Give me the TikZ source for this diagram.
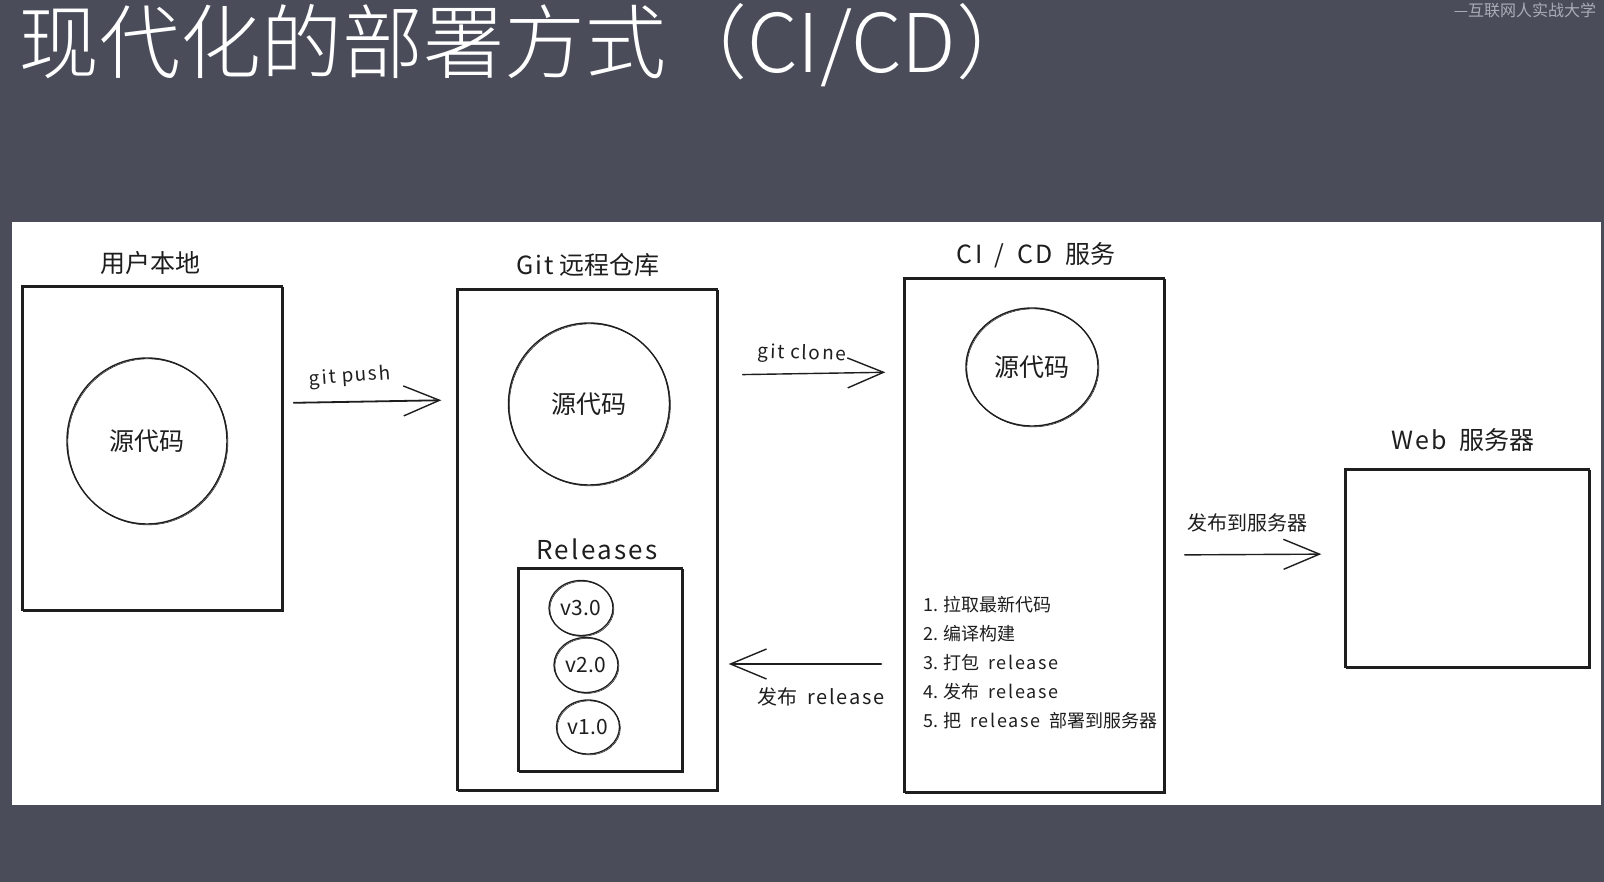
\documentclass[tikz,border=0pt]{standalone}
\usepackage{fontspec}
\setmainfont{Noto Sans CJK SC}
\IfFontExistsTF{Noto Sans CJK SC Light}
  {\newfontfamily\headfont{Noto Sans CJK SC Light}}
  {\newfontfamily\headfont{Noto Sans CJK SC}}
\usetikzlibrary{arrows.meta,shapes.geometric}
\definecolor{slate}{RGB}{74,77,89}
\definecolor{ink}{RGB}{30,30,30}
\definecolor{brandgrey}{RGB}{170,173,182}
\newcommand{\setfs}[1]{\fontsize{#1}{#1}\selectfont}
% loosely spaced latin words
\newcommand{\hand}[1]{{\addfontfeature{LetterSpace=9}#1}}

\begin{document}
\begin{tikzpicture}[x=1pt,y=-1pt,
  sketch/.style={draw=ink, line width=1.4pt,
    postaction={draw=ink, line width=0.5pt, transform canvas={xshift=0.9pt,yshift=-0.9pt}}},
  frame/.style={sketch, inner sep=0pt},
  bubble/.style={ellipse, sketch, inner sep=0pt, text=ink, font=\setfs{25}},
  tag/.style={ellipse, sketch, line width=1.3pt, inner sep=0pt, text=ink, font=\setfs{21}},
  lbl/.style={text=ink, inner sep=0pt},
  steptext/.style={text=ink, inner sep=0pt, anchor=west, font=\setfs{18}},
  flow/.style={draw=ink, line width=1.4pt, line cap=round,
    -{Straight Barb[length=36pt,width=30pt,line width=1.4pt]}}
]
% page and canvas
\useasboundingbox (0,0) rectangle (1604,882);
\fill[slate] (0,0) rectangle (1604,882);
\fill[white] (12,222) rectangle (1601,805);

% heading
\node[anchor=base west, inner sep=0pt, text=white, font={\headfont\setfs{81}}] (title) at (18,73) {现代化的部署方式（CI/CD）};
\node[inner sep=0pt, text=brandgrey, font=\setfs{16}] (brand) at (1525,10) {—互联网人实战大学};

% local workspace
\node[frame, minimum width=260pt, minimum height=324pt] (local) at (152,448) {};
\node[lbl, font=\setfs{25}] (localtitle) at (150,263) {用户本地};
\node[bubble, minimum width=160pt, minimum height=166pt] (src1) at (147,441) {源代码};

% remote git repository
\node[frame, minimum width=260pt, minimum height=501pt] (git) at (587,539.5) {};
\node[lbl, font=\setfs{25}] (gittitle) at (588,265) {\hand{Git} 远程仓库};
\node[bubble, minimum width=161pt, minimum height=162pt] (src2) at (589,404) {源代码};
\node[lbl, font=\setfs{26}] (reltitle) at (597,549) {\hand{Releases}};
\node[frame, minimum width=164pt, minimum height=203pt] (rel) at (600,669.5) {};
\node[tag, minimum width=64pt, minimum height=55pt] (v3) at (581,608) {v3.0};
\node[tag, minimum width=64pt, minimum height=55pt] (v2) at (586,665) {v2.0};
\node[tag, minimum width=63pt, minimum height=54pt] (v1) at (588,727) {v1.0};

% CI/CD service
\node[frame, minimum width=260pt, minimum height=514pt] (ci) at (1034,535) {};
\node[lbl, font=\setfs{25}] (cititle) at (1036,255) {\hand{CI\enspace/\enspace CD}\enspace 服务};
\node[bubble, minimum width=132pt, minimum height=118pt] (src3) at (1032,367) {源代码};
\node[steptext] (s1) at (923,605) {1. 拉取最新代码};
\node[steptext] (s2) at (923,634) {2. 编译构建};
\node[steptext] (s3) at (923,663) {3. 打包\enspace\hand{release}};
\node[steptext] (s4) at (923,692) {4. 发布\enspace\hand{release}};
\node[steptext] (s5) at (923,721) {5. 把\enspace\hand{release}\enspace 部署到服务器};

% web server
\node[frame, minimum width=244pt, minimum height=198pt] (web) at (1467,568) {};
\node[lbl, font=\setfs{25}] (webtitle) at (1463,440) {\hand{Web}\enspace 服务器};

% connectors
\draw[flow, line width=1.8pt, shorten <=11pt, shorten >=15pt]
  ([yshift=45pt]local.east) -- ([yshift=139.5pt]git.west);
\node[lbl, font=\setfs{19}, rotate=4] (pushlbl) at (350,377) {\hand{git push}};

\draw[flow, shorten <=25pt, shorten >=18pt]
  ([yshift=164.5pt]git.east) -- ([yshift=163pt]ci.west);
\node[lbl, font=\setfs{19}, rotate=-2] (clonelbl) at (802,354) {\hand{git clone}};

\draw[flow, shorten <=22pt, shorten >=11pt]
  ([yshift=-129pt]ci.west) -- ([yshift=-124.5pt]git.east);
\node[lbl, font=\setfs{20}] (publbl) at (821,697) {发布\enspace\hand{release}};

\draw[flow, shorten <=20pt, shorten >=23pt]
  ([yshift=-20pt]ci.east) -- ([yshift=14pt]web.west);
\node[lbl, font=\setfs{20}] (deplbl) at (1247,523) {发布到服务器};
\end{tikzpicture}
\end{document}
